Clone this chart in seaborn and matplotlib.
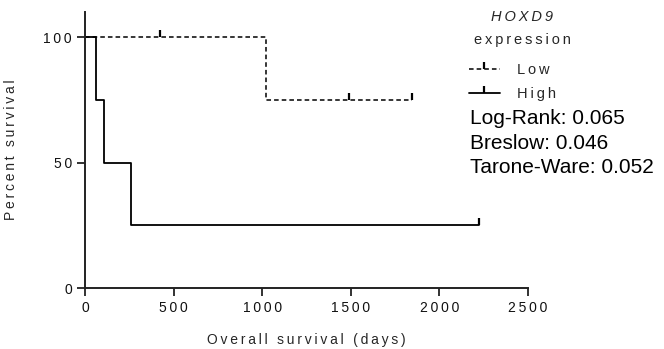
import matplotlib
matplotlib.use("Agg")
import matplotlib.pyplot as plt
from matplotlib.lines import Line2D
import seaborn as sns

# ---- data ----
low_times = [0, 1020, 1845]
low_surv = [100, 75, 75]
low_cens_t = [423, 1491, 1845]
low_cens_s = [100, 75, 75]

high_times = [0, 60, 109, 258, 2222]
high_surv = [100, 75, 50, 25, 25]
high_cens_t = [2222]
high_cens_s = [25]

x_ticks = [0, 500, 1000, 1500, 2000, 2500]
y_ticks = [0, 50, 100]
group_labels = ["Low", "High"]
gene_name = "HOXD9"
stats_lines = ["Log-Rank: 0.065", "Breslow: 0.046", "Tarone-Ware: 0.052"]

sns.set_style("ticks")
plt.rcParams["font.family"] = ["Liberation Sans", "DejaVu Sans"]

TRACK = "\u2009"


def sp(s, ch=TRACK):
    return ch.join(s)


fig = plt.figure(figsize=(6.64, 3.49), dpi=100)
ax = fig.add_axes([85 / 664, 61 / 349, 443 / 664, 276 / 349])

dash = (0, (3, 2))
cens_kw = dict(color="black", linestyle="none", marker=2, markersize=5,
               markeredgewidth=1.6, markeredgecolor="black")
sns.lineplot(x=low_times, y=low_surv, drawstyle="steps-post", color="black",
             linewidth=1.1, linestyle=dash, ax=ax)
sns.lineplot(x=high_times, y=high_surv, drawstyle="steps-post", color="black",
             linewidth=1.3, ax=ax)
sns.lineplot(x=low_cens_t, y=low_cens_s, ax=ax, **cens_kw)
sns.lineplot(x=high_cens_t, y=high_cens_s, ax=ax, **cens_kw)

ax.set_xlim(0, 2500)
ax.set_ylim(0, 110)
ax.set_xticks(x_ticks, labels=[sp(str(t)) for t in x_ticks])
ax.set_yticks(y_ticks, labels=[sp(str(t)) for t in y_ticks])
ax.tick_params(axis="both", length=5.5, width=1.3, color="#222222",
               labelsize=10, labelcolor="#111111", pad=4)
for side in ["top", "right"]:
    ax.spines[side].set_visible(False)
for side in ["left", "bottom"]:
    ax.spines[side].set_linewidth(1.4)
    ax.spines[side].set_color("#222222")

ax.set_xlabel(sp("Overall survival (days)"), fontsize=10, labelpad=13)
ax.set_ylabel(sp("Percent survival"), fontsize=10, labelpad=18)

# legend title (two lines)
fig.text(522 / 664, 1 - 17 / 349, sp(gene_name), style="italic", fontsize=10.5,
         ha="center", va="center")
fig.text(522 / 664, 1 - 40 / 349, sp("expression"), fontsize=10.5,
         ha="center", va="center")

handles = [
    Line2D([], [], color="black", linewidth=1.1, linestyle=dash, marker=2,
           markersize=5, markeredgewidth=1.6),
    Line2D([], [], color="black", linewidth=1.3, marker=2,
           markersize=5, markeredgewidth=1.6),
]
fig.legend(handles, [sp(g) for g in group_labels], loc="center left",
           bbox_to_anchor=(469 / 664, 1 - 82 / 349), frameon=False,
           fontsize=10.5, handlelength=2.1, handletextpad=1.2,
           labelspacing=0.68, borderpad=0, borderaxespad=0)

for i, line in enumerate(stats_lines):
    fig.text(470 / 664, 1 - (118 + 25 * i) / 349, line, fontsize=15,
             ha="left", va="center", color="black")

fig.savefig("out.png", dpi=100)
